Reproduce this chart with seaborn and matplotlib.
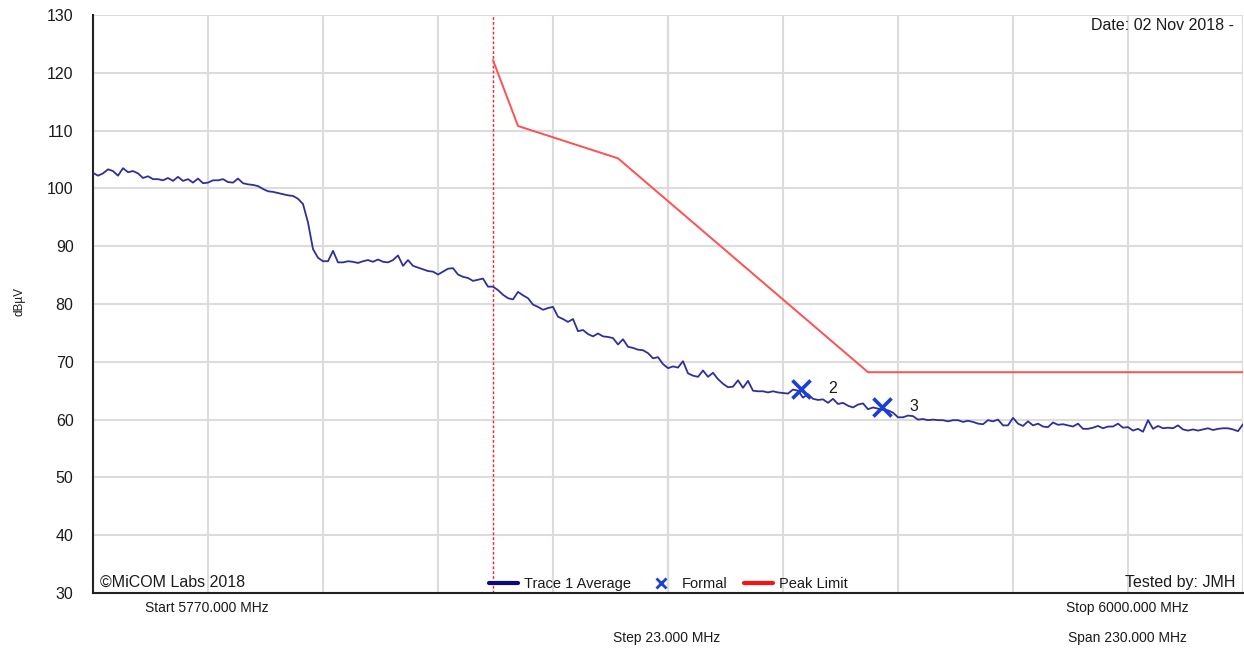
import numpy as np
import pandas as pd
import matplotlib
matplotlib.use("Agg")
import matplotlib.pyplot as plt
from matplotlib.lines import Line2D
import seaborn as sns

# ---------------- data ----------------
start_mhz = 5770.0
stop_mhz = 6000.0
step_mhz = 23.0

trace_freq = np.arange(5770, 6001, 1.0)
trace_avg = [
    102.7, 102.2, 102.6, 103.3, 103.0, 102.2, 103.5, 102.8, 103.0, 102.6,
    101.8, 102.1, 101.6, 101.6, 101.4, 101.8, 101.3, 102.0, 101.3, 101.6,
    101.0, 101.7, 100.9, 101.0, 101.4, 101.4, 101.6, 101.1, 101.0, 101.7,
    100.9, 100.7, 100.6, 100.4, 99.9, 99.5, 99.4, 99.2, 99.0, 98.8,
    98.7, 98.2, 97.3, 94.1, 89.5, 88.0, 87.4, 87.4, 89.2, 87.2,
    87.2, 87.4, 87.3, 87.1, 87.4, 87.6, 87.3, 87.7, 87.3, 87.2,
    87.6, 88.4, 86.6, 87.6, 86.6, 86.3, 86.0, 85.7, 85.6, 85.1,
    85.6, 86.1, 86.2, 85.1, 84.7, 84.5, 84.0, 84.2, 84.4, 83.0,
    83.0, 82.4, 81.6, 81.0, 80.8, 82.1, 81.5, 81.0, 79.9, 79.5,
    79.0, 79.3, 79.5, 77.8, 77.4, 76.9, 77.4, 75.3, 75.5, 74.8,
    74.4, 74.9, 74.4, 74.3, 74.1, 73.0, 73.9, 72.6, 72.4, 72.1,
    72.0, 71.5, 70.6, 70.8, 69.6, 68.9, 69.2, 69.0, 70.1, 68.0,
    67.6, 67.4, 68.5, 67.4, 68.1, 67.0, 66.2, 65.6, 65.7, 66.8,
    65.5, 66.7, 65.0, 64.9, 64.9, 64.7, 64.9, 64.7, 64.6, 64.5,
    65.2, 65.0, 63.8, 64.4, 63.6, 63.4, 63.5, 62.9, 63.6, 62.7,
    62.9, 62.4, 62.1, 62.6, 62.8, 61.8, 62.1, 61.9, 61.7, 61.6,
    61.2, 60.4, 60.4, 60.7, 60.6, 60.0, 60.1, 59.9, 60.0, 59.9,
    59.9, 59.7, 59.9, 59.9, 59.6, 59.8, 59.6, 59.3, 59.2, 59.9,
    59.7, 60.0, 59.0, 59.0, 60.3, 59.3, 58.9, 59.7, 59.0, 59.3,
    58.8, 58.7, 59.5, 59.1, 59.2, 59.0, 58.8, 59.3, 58.4, 58.4,
    58.6, 58.9, 58.5, 58.8, 58.8, 59.3, 58.6, 58.7, 58.1, 58.4,
    57.9, 59.9, 58.4, 58.9, 58.5, 58.6, 58.5, 59.0, 58.3, 58.1,
    58.3, 58.1, 58.3, 58.5, 58.2, 58.4, 58.5, 58.5, 58.3, 58.0, 59.2,
]

limit_freq = [5850.0, 5855.0, 5875.0, 5925.0, 6000.0]
limit_val = [122.2, 110.8, 105.2, 68.2, 68.2]

band_edge = 5850.0

marker_freq = [5911.6, 5927.8]
marker_val = [65.3, 62.2]
marker_labels = ["2", "3"]

# ---------------- style ----------------
sns.set_style("white")
plt.rcParams["font.family"] = ["Liberation Sans", "DejaVu Sans"]

trace_color = "#2f2f9c"
limit_color = "#ff5050"
marker_color = "#1a3fd8"
grid_color = "#dcdcdc"
text_color = "#1a1a1a"

fig = plt.figure(figsize=(12.44, 6.50), dpi=100)
ax = fig.add_axes([93 / 1244, 1 - 593 / 650, 1150 / 1244, 578 / 650])

df_trace = pd.DataFrame({"freq": trace_freq, "level": trace_avg})
df_limit = pd.DataFrame({"freq": limit_freq, "level": limit_val})
df_mark = pd.DataFrame({"freq": marker_freq, "level": marker_val})

ax.set_xlim(start_mhz, stop_mhz)
ax.set_ylim(30, 130)

# grid
ax.set_xticks(np.arange(start_mhz, stop_mhz + 0.1, 2 * step_mhz))
ax.set_xticks(np.arange(start_mhz, stop_mhz + 0.1, step_mhz), minor=True)
ax.set_yticks(np.arange(30, 131, 10))
ax.grid(which="both", axis="x", color=grid_color, linewidth=1.5, zorder=0)
ax.grid(which="major", axis="y", color=grid_color, linewidth=1.5, zorder=0)
ax.axvline(start_mhz + 5 * step_mhz, color="#a8a8a8", linewidth=1.5, zorder=0.5)

ax.set_xticklabels([])
ax.tick_params(axis="x", which="major", length=7, width=1.5, color="#222222", direction="out")
ax.tick_params(axis="x", which="minor", length=0)
ax.tick_params(axis="y", which="major", length=12, width=1.5, color="#222222",
               labelsize=11.5, labelcolor=text_color, pad=2)

for s in ["top", "right"]:
    ax.spines[s].set_visible(False)
for s in ["left", "bottom"]:
    ax.spines[s].set_color("#222222")
    ax.spines[s].set_linewidth(1.5)

# band edge
ax.axvline(band_edge, color="#ff2020", linewidth=1.0, linestyle=(0, (2, 1.5)), zorder=2)

# data series
sns.lineplot(data=df_limit, x="freq", y="level", ax=ax, color=limit_color,
             linewidth=1.4, zorder=3, legend=False)
sns.lineplot(data=df_trace, x="freq", y="level", ax=ax, color=trace_color,
             linewidth=1.3, zorder=4, legend=False)
sns.scatterplot(data=df_mark, x="freq", y="level", ax=ax, marker="x", s=170,
                linewidth=2.6, color=marker_color, zorder=5, legend=False)
for f, v, lab in zip(marker_freq, marker_val, marker_labels):
    ax.annotate(lab, (f, v), xytext=(32, 0), textcoords="offset pixels",
                ha="center", va="center", fontsize=11.5, color=text_color, zorder=6)

ax.set_xlabel("")
ax.set_ylabel("")

# legend
handles = [
    Line2D([0], [0], color="#0a0a80", linewidth=3),
    Line2D([0], [0], color=marker_color, marker="x", linestyle="none", markersize=7, markeredgewidth=2),
    Line2D([0], [0], color="#ff1010", linewidth=3),
]
labels = ["Trace 1 Average", "Formal", "Peak Limit"]
leg = ax.legend(handles, labels, loc="lower center", bbox_to_anchor=(0.5, -0.019), ncol=3,
                frameon=False, fontsize=10.5, handlelength=2.0, handletextpad=0.4,
                columnspacing=1.1, labelcolor=text_color)

# annotations
ax.text(0.006, 0.019, "\u00a9MiCOM Labs 2018", transform=ax.transAxes, fontsize=11.5,
        color=text_color, ha="left", va="center")
ax.text(0.993, 0.019, "Tested by: JMH", transform=ax.transAxes, fontsize=11.5,
        color=text_color, ha="right", va="center")
ax.text(0.992, 0.982, "Date: 02 Nov 2018 -", transform=ax.transAxes, fontsize=11.5,
        color=text_color, ha="right", va="center")

fig.text(207 / 1244, 1 - 608 / 650, "Start 5770.000 MHz", fontsize=10, color=text_color,
         ha="center", va="center")
fig.text(1127 / 1244, 1 - 608 / 650, "Stop 6000.000 MHz", fontsize=10, color=text_color,
         ha="center", va="center")
fig.text(667 / 1244, 1 - 638 / 650, "Step 23.000 MHz", fontsize=10, color=text_color,
         ha="center", va="center")
fig.text(1127 / 1244, 1 - 638 / 650, "Span 230.000 MHz", fontsize=10, color=text_color,
         ha="center", va="center")
fig.text(19 / 1244, 1 - 302 / 650, "dB\u00b5V", fontsize=8.5, color=text_color,
         ha="center", va="center", rotation=90)

fig.savefig("out.png", dpi=100, facecolor="white")
